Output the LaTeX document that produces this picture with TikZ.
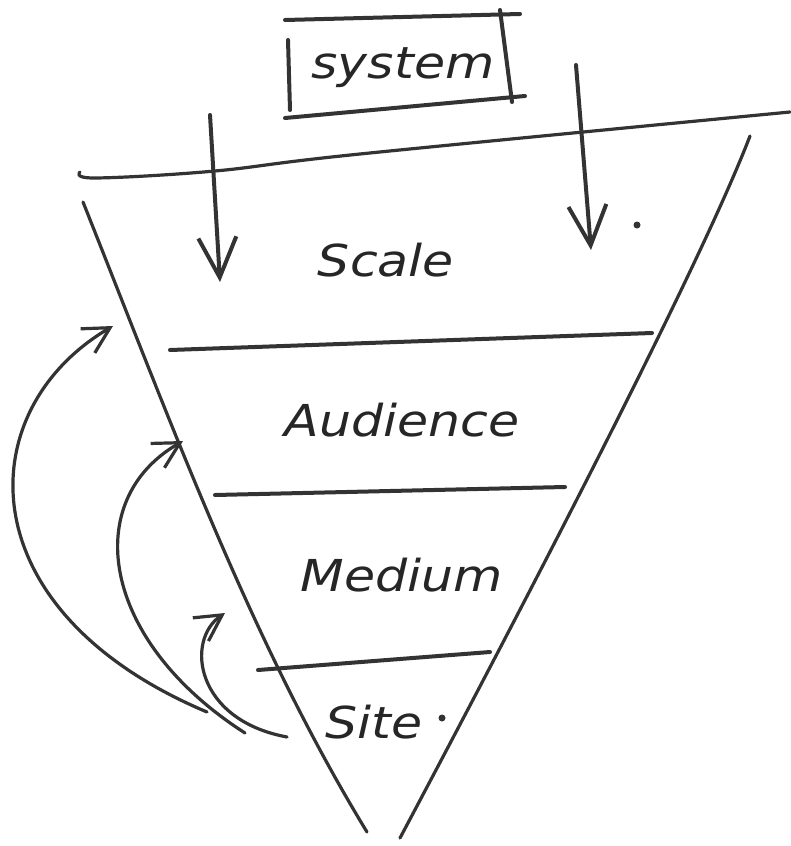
\documentclass[tikz,border=0pt]{standalone}
\usepackage{fontspec}
\usepackage{graphicx}
\setmainfont{DejaVu Sans}
\usetikzlibrary{arrows.meta}
\tikzset{
  pen/.style={line width=4pt, line cap=round, line join=round, draw={black!80}},
  thin pen/.style={line width=3.2pt, line cap=round, line join=round, draw={black!80}},
  label text/.style={font=\fontsize{44}{50}\selectfont\itshape, text={black!85}, inner sep=0pt},
  down head/.style={-{Straight Barb[length=40pt,width=38pt,line width=4pt]}},
  curve head/.style={-{Straight Barb[length=26pt,width=28pt,line width=3.2pt]}},
}
\newcommand{\wide}[1]{\scalebox{1.15}[1]{#1}}
\begin{document}
\begin{tikzpicture}[x=1pt,y=-1pt]
\useasboundingbox (0,0) rectangle (790,846);
% system box
\node[label text] (system) at (403,68) {\wide{system}};
\draw[pen] (285,20) -- (520,14);
\draw[pen] (285,118) -- (525,96);
\draw[pen] (288,40) -- (290,110);
\draw[pen] (500,10) -- (512,102);
% horizon line
\draw[thin pen] plot[smooth, tension=0.6] coordinates {(80,172) (95,178) (215,171) (360,154) (790,112)};
% down arrows
\coordinate (a1s) at (210,115);
\coordinate (a1e) at (220,282);
\draw[pen, down head] (a1s) -- (a1e);
\coordinate (a2s) at (576,65);
\coordinate (a2e) at (591,250);
\draw[pen, down head] (a2s) -- (a2e);
\fill[black!80] (637,225) circle (3.5pt);
% funnel sides
\coordinate (ltop) at (83,202);
\coordinate (lbot) at (367,832);
\coordinate (rtop) at (750,136);
\coordinate (rbot) at (400,838);
\draw[thin pen] (ltop) .. controls (170,420) and (250,640) .. (lbot);
\draw[thin pen] (rtop) .. controls (710,240) and (590,480) .. (rbot);
% dividers
\draw[pen] (170,350) -- (652,333);
\draw[pen] (215,495) -- (565,487);
\draw[pen] (258,670) -- (490,652);
% labels
\node[label text] (scale) at (386,260) {\wide{Scale}};
\node[label text] (aud) at (402,420) {\wide{Audience}};
\node[label text] (med) at (402,575) {\wide{Medium}};
\node[label text] (site) at (374,722) {\wide{Site}};
\fill[black!80] (442,718) circle (3.5pt);
% curved arrows
\coordinate (c1s) at (207,712);
\coordinate (c1e) at (113,326);
\draw[thin pen, curve head] (c1s) .. controls (-35,610) and (-30,410) .. (c1e);
\coordinate (c2s) at (245,733);
\coordinate (c2e) at (183,441);
\draw[thin pen, curve head] (c2s) .. controls (100,640) and (80,500) .. (c2e);
\coordinate (c3s) at (287,737);
\coordinate (c3e) at (225,613);
\draw[thin pen, curve head] (c3s) .. controls (195,720) and (185,640) .. (c3e);
\end{tikzpicture}
\end{document}
